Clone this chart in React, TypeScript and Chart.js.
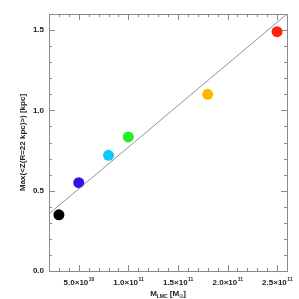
import React, { useEffect, useRef } from "react";
import { Chart, registerables } from "chart.js";

Chart.register(...registerables);

const massLMC = [3e10, 5e10, 8e10, 1e11, 1.8e11, 2.5e11];
const maxZ = [0.35, 0.55, 0.72, 0.835, 1.1, 1.49];
const pointColors = ["#000000", "#3a10e0", "#10c8f8", "#22ee22", "#ffb800", "#ff2010"];
const fitX = [2e10, 2.6e11];
const fitY = [0.356, 1.6];
const xMajorTicks = [5e10, 1e11, 1.5e11, 2e11, 2.5e11];
const xTickMantissa = ["5.0", "1.0", "1.5", "2.0", "2.5"];
const xTickExponent = ["10", "11", "11", "11", "11"];
const yMajorTicks = [0, 0.5, 1.0, 1.5];
const yTickLabels = ["0.0", "0.5", "1.0", "1.5"];
const xMin = 2e10, xMax = 2.6e11, xMinorStep = 1e10;
const yMin = 0, yMax = 1.6, yMinorStep = 0.1;
const yTitle = "Max(<Z(R=22 kpc)>) [kpc]";

const axisPlugin = {
  id: "idlAxes",
  afterDraw(chart: any) {
    const ctx = chart.ctx;
    const { left, right, top, bottom } = chart.chartArea;
    const xs = chart.scales.x;
    const ys = chart.scales.y;
    const gray = "#8a8a8a";
    ctx.save();
    ctx.strokeStyle = gray;
    ctx.lineWidth = 1;
    ctx.strokeRect(left + 0.5, top + 0.5, right - left, bottom - top);
    ctx.beginPath();
    // x minor/major ticks
    for (let v = xMin; v <= xMax + 1; v += xMinorStep) {
      const px = Math.round(xs.getPixelForValue(v)) + 0.5;
      const major = xMajorTicks.some((m) => Math.abs(m - v) < 1e6);
      const len = major ? 6 : 3;
      ctx.moveTo(px, bottom);
      ctx.lineTo(px, bottom - len);
      ctx.moveTo(px, top);
      ctx.lineTo(px, top + len);
    }
    for (let i = 0; i <= Math.round((yMax - yMin) / yMinorStep); i++) {
      const v = yMin + i * yMinorStep;
      const py = Math.round(ys.getPixelForValue(v)) + 0.5;
      const major = yMajorTicks.some((m) => Math.abs(m - v) < 1e-6);
      const len = major ? 6 : 3;
      ctx.moveTo(left, py);
      ctx.lineTo(left + len, py);
      ctx.moveTo(right, py);
      ctx.lineTo(right - len, py);
    }
    ctx.stroke();

    ctx.fillStyle = "#222";
    const font = "bold 8px 'Liberation Sans', Arial, sans-serif";
    const smallFont = "bold 5px 'Liberation Sans', Arial, sans-serif";
    // y tick labels
    ctx.font = font;
    ctx.textAlign = "right";
    ctx.textBaseline = "middle";
    yMajorTicks.forEach((v, i) => {
      ctx.fillText(yTickLabels[i], left - 5, ys.getPixelForValue(v));
    });
    // x tick labels with superscript
    xMajorTicks.forEach((v, i) => {
      const px = xs.getPixelForValue(v);
      ctx.font = font;
      const base = xTickMantissa[i] + "\u00d710";
      const bw = ctx.measureText(base).width;
      ctx.font = smallFont;
      const ew = ctx.measureText(xTickExponent[i]).width;
      const start = px - (bw + ew) / 2;
      ctx.textAlign = "left";
      ctx.textBaseline = "alphabetic";
      ctx.font = font;
      ctx.fillText(base, start, bottom + 14);
      ctx.font = smallFont;
      ctx.fillText(xTickExponent[i], start + bw + 0.5, bottom + 10);
    });
    // x title: M_LMC [M_sun]
    const cx = (left + right) / 2;
    const ty = bottom + 25;
    const parts: [string, boolean][] = [["M", false], ["LMC", true], [" [M", false], ["\u2609", true], ["]", false]];
    let total = 0;
    parts.forEach(([t, sub]) => {
      ctx.font = sub ? smallFont : font;
      total += ctx.measureText(t).width;
    });
    let x = cx - total / 2;
    ctx.textAlign = "left";
    parts.forEach(([t, sub]) => {
      ctx.font = sub ? smallFont : font;
      ctx.fillText(t, x, sub ? ty + 2 : ty);
      x += ctx.measureText(t).width;
    });
    // y title
    ctx.save();
    ctx.translate(left - 26, (top + bottom) / 2);
    ctx.rotate(-Math.PI / 2);
    ctx.font = font;
    ctx.textAlign = "center";
    ctx.textBaseline = "middle";
    ctx.fillText(yTitle, 0, 0);
    ctx.restore();
    ctx.restore();
  },
};

export default function App() {
  const ref = useRef<HTMLCanvasElement | null>(null);
  useEffect(() => {
    if (!ref.current) return;
    const chart = new Chart(ref.current, {
      type: "scatter",
      data: {
        datasets: [
          {
            type: "line",
            data: fitX.map((x, i) => ({ x, y: fitY[i] })),
            borderColor: "#777",
            borderWidth: 0.8,
            pointRadius: 0,
            fill: false,
          } as any,
          {
            data: massLMC.map((x, i) => ({ x, y: maxZ[i] })),
            backgroundColor: pointColors,
            borderColor: pointColors,
            pointRadius: 5.5,
            borderWidth: 0,
          },
        ],
      },
      options: {
        responsive: false,
        animation: false,
        layout: { padding: { left: 49, right: 12, top: 14, bottom: 28 } },
        plugins: { legend: { display: false }, tooltip: { enabled: false } },
        scales: {
          x: { type: "linear", min: xMin, max: xMax, display: false },
          y: { type: "linear", min: yMin, max: yMax, display: false },
        },
      },
      plugins: [axisPlugin],
    });
    return () => chart.destroy();
  }, []);
  return (
    <div style={{ position: "fixed", left: 0, top: 0, width: 299, height: 299, background: "#fff" }}>
      <canvas ref={ref} width={299} height={299} />
    </div>
  );
}
